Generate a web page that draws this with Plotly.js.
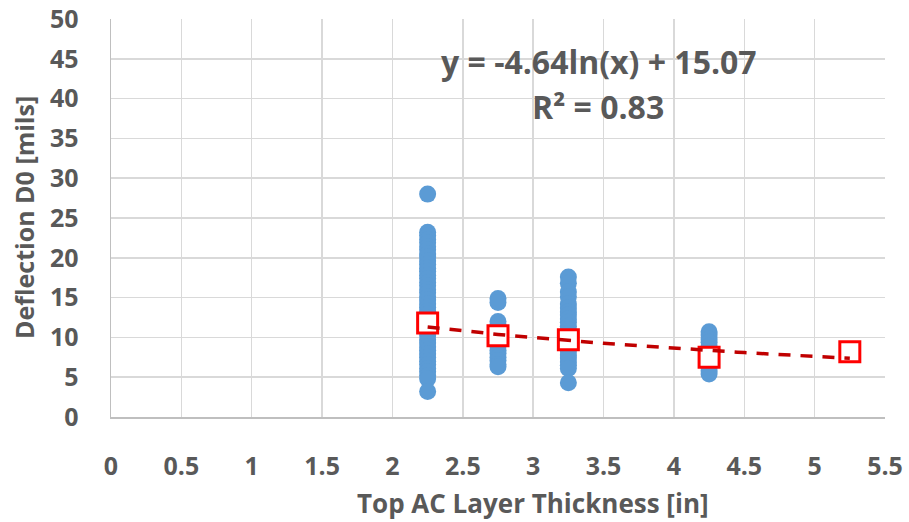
<!DOCTYPE html>
<html>
<head>
<meta charset="utf-8">
<script src="https://cdn.plot.ly/plotly-3.0.1.min.js"></script>
<style>html,body{margin:0;padding:0;background:#fff;}#chart{width:909px;height:522px;}</style>
</head>
<body>
<div id="chart"></div>
<script>
// Raw deflection readings per thickness group
const thick225 = [28.0, 23.2, 22.8, 22.3, 21.9, 21.4, 21.0, 20.5, 20.1, 19.6, 19.2, 18.7, 18.3, 17.8, 17.4, 16.9, 16.5, 16.0, 15.6, 15.1, 14.7, 14.2, 13.8, 13.3, 12.9, 12.4, 12.0, 11.5, 11.1, 10.6, 10.2, 9.7, 9.3, 8.8, 8.4, 7.9, 7.5, 7.0, 6.6, 6.1, 5.7, 5.2, 4.8, 3.2];
const thick275 = [14.9, 14.4, 12.0, 11.6, 11.1, 10.7, 10.2, 9.8, 9.3, 8.9, 8.4, 8.0, 7.5, 7.1, 6.6, 6.3];
const thick325 = [17.6, 16.8, 15.7, 15.1, 14.2, 13.7, 13.2, 12.8, 12.3, 11.9, 11.4, 11.0, 10.5, 10.1, 9.6, 9.2, 8.7, 8.3, 7.8, 7.4, 6.9, 6.5, 6.1, 4.3];
const thick425 = [10.7, 10.3, 9.8, 9.4, 8.9, 8.5, 8.0, 7.6, 7.1, 6.7, 6.2, 5.8, 5.4];
const groupX = [2.25, 2.75, 3.25, 4.25];

// Group means (red squares)
const meanX = [2.25, 2.75, 3.25, 4.25, 5.25];
const meanY = [11.8, 10.2, 9.7, 7.5, 8.2];

// Trendline from chart label: y = -4.64ln(x) + 15.07
const trendA = -4.64;
const trendB = 15.07;
const trendStart = 2.25, trendEnd = 5.25;

const xTicks = [0, 0.5, 1, 1.5, 2, 2.5, 3, 3.5, 4, 4.5, 5, 5.5];
const yTicks = [0, 5, 10, 15, 20, 25, 30, 35, 40, 45, 50];

const groups = [thick225, thick275, thick325, thick425];
const sx = [], sy = [];
groups.forEach((g, i) => g.forEach(v => { sx.push(groupX[i]); sy.push(v); }));

const tx = [], ty = [];
for (let i = 0; i <= 60; i++) {
  const x = trendStart + (trendEnd - trendStart) * i / 60;
  tx.push(x); ty.push(trendA * Math.log(x) + trendB);
}

const FONT = '"Open Sans", "Noto Sans", sans-serif';
const GRAY = '#595959';
const L = 111, R = 885, T = 19, B = 417;
const PW = R - L, PH = B - T;

const data = [
  {x: sx, y: sy, type: 'scatter', mode: 'markers',
   marker: {color: '#5B9BD5', size: 17, line: {width: 0}}},
  {x: meanX, y: meanY, type: 'scatter', mode: 'markers',
   marker: {symbol: 'square', color: '#FFFFFF', size: 20, line: {color: '#FF0000', width: 3}}},
  {x: tx, y: ty, type: 'scatter', mode: 'lines',
   line: {color: '#C00000', width: 3.5, dash: '12px,10px'}}
];

const layout = {
  width: 909, height: 522,
  margin: {l: L, r: 909 - R, t: T, b: 522 - B},
  paper_bgcolor: '#FFFFFF', plot_bgcolor: '#FFFFFF',
  showlegend: false,
  font: {family: FONT, color: GRAY},
  xaxis: {
    range: [0, 5.5], tickvals: xTicks, ticktext: xTicks.map(String),
    showgrid: true, gridcolor: '#D9D9D9', gridwidth: 1.5,
    zeroline: false, showline: true, linecolor: '#BFBFBF', linewidth: 1.5,
    ticks: '', ticklabelstandoff: 26,
    tickfont: {family: FONT, size: 25, color: GRAY, weight: 'bold'},
    fixedrange: true
  },
  yaxis: {
    range: [0, 50], tickvals: yTicks, ticktext: yTicks.map(String),
    showgrid: true, gridcolor: '#D9D9D9', gridwidth: 1.5,
    zeroline: false, showline: true, linecolor: '#BFBFBF', linewidth: 1.5,
    ticks: '', ticklabelstandoff: 26,
    tickfont: {family: FONT, size: 25, color: GRAY, weight: 'bold'},
    fixedrange: true
  },
  annotations: [
    {xref: 'paper', yref: 'paper', x: (24 - L) / PW, y: (B - 218) / PH,
     xanchor: 'center', yanchor: 'middle', showarrow: false, textangle: -90,
     text: 'Deflection D0 [mils]',
     font: {family: FONT, size: 25, color: GRAY, weight: 'bold'}},
    {xref: 'paper', yref: 'paper', x: (533 - L) / PW, y: -(503 - B) / PH,
     xanchor: 'center', yanchor: 'middle', showarrow: false,
     text: 'Top AC Layer Thickness [in]',
     font: {family: FONT, size: 26, color: GRAY, weight: 'bold'}},
    {xref: 'paper', yref: 'paper', x: (599 - L) / PW, y: (B - 62) / PH,
     xanchor: 'center', yanchor: 'middle', showarrow: false,
     text: 'y = -4.64ln(x) + 15.07',
     font: {family: FONT, size: 32, color: GRAY, weight: 'bold'}},
    {xref: 'paper', yref: 'paper', x: (598 - L) / PW, y: (B - 107) / PH,
     xanchor: 'center', yanchor: 'middle', showarrow: false,
     text: 'R² = 0.83',
     font: {family: FONT, size: 32, color: GRAY, weight: 'bold'}}
  ]
};

Plotly.newPlot('chart', data, layout, {displayModeBar: false, staticPlot: true});
</script>
</body>
</html>
